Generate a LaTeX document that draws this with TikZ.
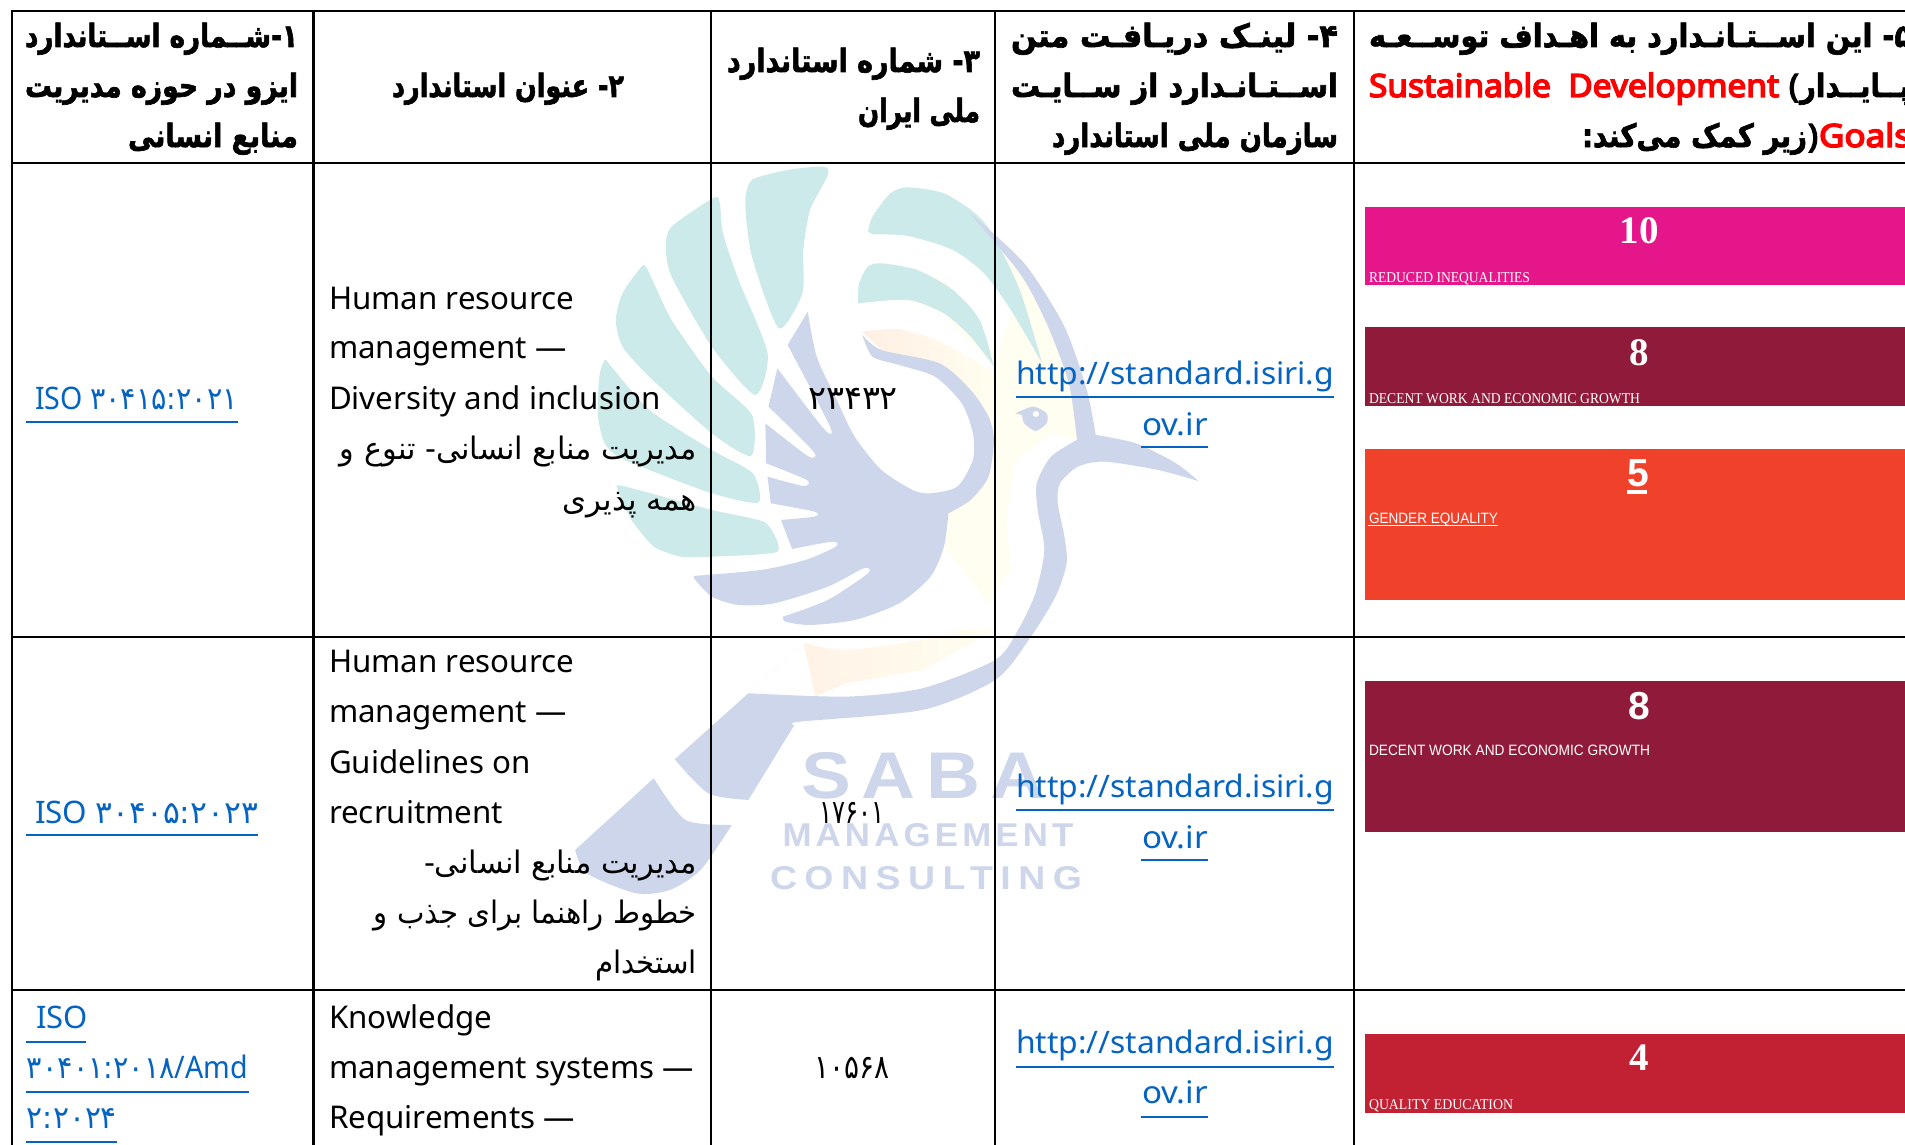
\documentclass[tikz,border=0pt]{standalone}
\usepackage{fontspec}
\usepackage{graphicx}
\usetikzlibrary{calc}
\TeXXeTstate=1
\setmainfont{Noto Sans}
\newfontfamily\fa[Script=Arabic]{DejaVu Sans}
\newfontfamily\fab[Script=Arabic,FakeBold=2]{DejaVu Sans Bold}
\newfontfamily\nb[FakeBold=4.5]{Noto Sans}
\newfontfamily\se{Liberation Serif}
\newfontfamily\ar{Liberation Sans}
\newcommand\hw[2]{\resizebox{#1pt}{\height}{#2}}
\newcommand\rt[1]{{\fa\beginR #1\endR}}
\newcommand\rb[1]{{\fab\beginR #1\endR}}
\newcommand\fs[1]{\fontsize{#1}{#1}\selectfont}
\definecolor{teal1}{HTML}{CCEAE9}
\definecolor{blue1}{HTML}{CDD6EA}
\definecolor{cream1}{HTML}{FFFEF0}
\definecolor{peach1}{HTML}{FFEFE3}
\definecolor{linkc}{HTML}{0563C1}
\definecolor{sdgten}{HTML}{E5158A}
\definecolor{sdgeight}{HTML}{8F1A39}
\definecolor{sdgfive}{HTML}{F0412A}
\definecolor{sdgfour}{HTML}{C22033}
\tikzset{
  txt/.style={inner sep=0pt,outer sep=0pt,anchor=base west},
  rtl/.style={inner sep=0pt,outer sep=0pt,anchor=base east},
  ctr/.style={inner sep=0pt,outer sep=0pt,anchor=base},
  head/.style={rtl,font=\fs{32}},
  body/.style={txt,font=\fs{31.3}},
  fabody/.style={rtl,font=\fs{31}},
  lnk/.style={txt,font=\fs{31},text=linkc},
  ul/.style={draw=linkc,line width=1.6pt},
  grid/.style={draw=black,line width=2.2pt},
  sdgnum/.style={ctr,text=white,font=\fs{39}\se\bfseries},
  sdgsm/.style={txt,text=white,font=\fs{15}\se},
  smooth1/.style={smooth,tension=.45},
}
\begin{document}
\begin{tikzpicture}[x=1pt,y=-1pt]
\useasboundingbox (0,0) rectangle (1905,1145);
\clip (0,0) rectangle (1905,1145);
\fill[white] (0,0) rectangle (1905,1145);
% ---- logo
\begin{scope}[shift={(560,150)},x=.4464pt,y=-.3333pt]
 % cream / peach tints
 \fill[cream1] plot[smooth1] coordinates {(915,185)(1040,340)(1130,530)(1180,720)(1200,855)} -- (1158,870) -- (1100,850) -- (1020,930) -- (1000,1100) -- (1010,1260) -- (960,1360) -- (860,1190) -- (870,1090) -- (972,870) -- (972,650) -- (1030,420) -- cycle;
 \shade[left color=peach1,right color=cream1] plot[smooth1] coordinates {(677,545)(760,538)(860,580)(975,670)} -- (972,870) -- (850,640) -- (720,600) -- cycle;
 \fill[cream1] plot[smooth1] coordinates {(720,335)(800,360)(880,420)(972,600)} -- (972,650) -- (860,490) -- (780,450) -- cycle;
 \shade[left color=peach1,right color=cream1] (422,1630) -- (546,1479) plot[smooth1] coordinates {(546,1479)(641,1500)(812,1470)(898,1440)} -- (975,1440) -- (812,1560) -- (641,1600) -- (572,1640) -- cycle;
 % teal leaves
 \fill[teal1] plot[smooth cycle,tension=.4] coordinates {(430,90)(510,60)(590,50)(600,75)(560,180)(545,300)(543,430)(490,535)(430,320)(415,160)};
 \fill[teal1] plot[smooth cycle,tension=.4] coordinates {(345,143)(358,160)(365,250)(400,390)(465,610)(437,735)(340,590)(250,380)(237,290)(250,230)};
 \fill[teal1] plot[smooth cycle,tension=.4] coordinates {(185,347)(200,370)(250,510)(340,680)(430,795)(428,918)(340,850)(200,680)(140,590)(125,510)(140,430)};
 \fill[teal1] plot[smooth cycle,tension=.4] coordinates {(100,630)(115,650)(200,780)(340,900)(432,970)(444,1058)(340,1030)(200,960)(130,920)(100,880)(85,800)(88,680)};
 \fill[teal1] plot[smooth cycle,tension=.35] coordinates {(140,1008)(340,1080)(460,1118)(487,1205)(340,1220)(270,1220)(210,1190)(160,1110)(130,1020)};
 \fill[teal1] plot[smooth1] coordinates {(690,245)(700,200)(740,130)(780,112)(860,130)(930,190)(970,255)(1030,420)(1080,640)} -- plot[smooth1] coordinates {(1080,640)(1010,480)(950,370)(880,300)(780,258)(700,253)} -- cycle;
 \fill[teal1] plot[smooth1] coordinates {(668,460)(670,400)(690,350)(720,340)(800,360)(880,420)(940,510)(972,650)} -- plot[smooth1] coordinates {(972,650)(920,560)(860,490)(780,450)(668,460)} -- cycle;
 % blue body
 \fill[blue1] plot[smooth1] coordinates {(555,485)(575,620)(620,750)(660,860)(720,960)(790,1020)(830,1030)(890,1010)(925,930)(925,850)(900,760)(840,680)(760,645)(700,620)(677,555)}
  -- plot[smooth1] coordinates {(677,555)(720,600)(850,640)(920,720)(960,800)(972,870)(960,980)(920,1050)(870,1090)}
  -- plot[smooth1] coordinates {(870,1090)(860,1190)(830,1280)(760,1360)(660,1410)(560,1425)(505,1415)(500,1400)}
  -- plot[smooth1] coordinates {(500,1400)(600,1350)(690,1270)(680,1255)(600,1310)(480,1360)(400,1365)(340,1340)(300,1285)}
  -- plot[smooth1] coordinates {(300,1278)(450,1260)(550,1230)(618,1190)(610,1175)(520,1197)}
  -- (495,1110) -- plot[smooth1] coordinates {(495,1110)(570,1100)(570,1085)(472,1060)}
  -- (465,980) -- plot[smooth1] coordinates {(465,980)(545,1008)(553,990)(462,940)}
  -- (460,820) -- plot[smooth1] coordinates {(460,820)(555,918)(568,905)(467,770)}
  -- (487,655) -- plot[smooth1] coordinates {(487,655)(590,835)(605,830)(510,585)}
  -- cycle;
 % neck, head and beak
 \fill[blue1] plot[smooth1] coordinates {(915,185)(1040,340)(1130,530)(1180,720)(1200,855)}
  -- plot[smooth1] coordinates {(1200,855)(1290,880)(1380,940)(1430,993)}
  -- plot[smooth1] coordinates {(1430,993)(1340,960)(1220,935)(1160,950)(1120,1000)(1115,1060)(1130,1160)(1135,1240)(1110,1340)(1050,1470)(975,1590)(812,1680)(538,1715)(525,1725)}
  -- (422,1950) -- plot[smooth1] coordinates {(422,1950)(332,1930)(257,1828)}
  -- (422,1630) -- plot[smooth1] coordinates {(422,1630)(641,1640)(812,1615)(975,1530)(1026,1440)(1065,1330)(1085,1200)(1070,1080)(1068,1000)(1100,920)(1158,870)}
  -- plot[smooth1] coordinates {(1158,870)(1140,700)(1090,520)(1030,370)(915,185)} -- cycle;
 \fill[blue1] plot[smooth1] coordinates {(210,1885)(281,2010)(385,2025)} -- plot[smooth1] coordinates {(385,2025)(315,2160)(246,2220)(170,2230)(60,2170)(34,2100)} -- cycle;
 \fill[blue1] plot[smooth1] coordinates {(1020,790)(1060,770)(1090,790)(1090,820)(1065,843)(1040,820)(1035,795)} -- cycle;
 \fill[white] (1066,792) ellipse (7 and 9);
\end{scope}
\begin{scope}[text=blue1]
\node[ctr,font=\fs{66}\ar\bfseries] (saba) at (923,798) {\hw{243}{\addfontfeature{LetterSpace=14}SABA}};
\node[ctr,font=\fs{33}\ar\bfseries] (mgmt) at (928,846) {\hw{291}{\addfontfeature{LetterSpace=12}MANAGEMENT}};
\node[ctr,font=\fs{33}\ar\bfseries] (cons) at (926,889) {\hw{312}{\addfontfeature{LetterSpace=20}CONSULTING}};
\end{scope}
% ---- SDG boxes
\fill[sdgten] (1365,207) rectangle (1905,285);
\fill[sdgeight] (1365,327) rectangle (1905,406);
\fill[sdgfive] (1365,449) rectangle (1905,600);
\fill[sdgeight] (1365,681) rectangle (1905,832);
\fill[sdgfour] (1365,1034) rectangle (1905,1113);
\node[sdgnum] (n10) at (1639,243) {10};
\node[sdgsm] (t10) at (1369,282) {\hw{161}{REDUCED INEQUALITIES}};
\node[sdgnum] (n8a) at (1639,365) {8};
\node[sdgsm] (t8a) at (1369,403) {\hw{271}{DECENT WORK AND ECONOMIC GROWTH}};
\node[ctr,text=white,font=\fs{39}\ar\bfseries] (n5) at (1638,486) {5};
\draw[white,line width=3.5pt] (1627,492) -- (1647,492);
\node[sdgsm,font=\fs{15}\ar] (t5) at (1369,523) {\hw{129}{GENDER EQUALITY}};
\draw[white,line width=.8pt] (1368,525.5) -- (1498,525.5);
\node[ctr,text=white,font=\fs{39}\ar\bfseries] (n8b) at (1639,719) {8};
\node[sdgsm,font=\fs{15}\ar] (t8b) at (1369,755) {\hw{281}{DECENT WORK AND ECONOMIC GROWTH}};
\node[sdgnum] (n4) at (1639,1070) {4};
\node[sdgsm] (t4) at (1369,1109) {\hw{144}{QUALITY EDUCATION}};
% ---- grid
\foreach \gx in {12,313.5,711,995,1354} \draw[grid] (\gx,10) -- (\gx,1146);
\foreach \gy in {11,163,637,990} \draw[grid] (11,\gy) -- (1906,\gy);
% ---- header
\node[head] (h1a) at (298,47) {\hw{273}{\rb{۱-شــماره اســتاندارد}}};
\node[head] (h1b) at (298,97) {\hw{273}{\rb{ایزو در حوزه مدیریت}}};
\node[head] (h1c) at (298,147) {\hw{170}{\rb{منابع انسانی}}};
\node[head] (h2) at (624,97) {\hw{232}{\rb{۲- عنوان استاندارد}}};
\node[head] (h3a) at (980,72) {\hw{253}{\rb{۳- شماره استاندارد}}};
\node[head] (h3b) at (980,122) {\hw{122}{\rb{ملی ایران}}};
\node[head] (h4a) at (1338,47) {\hw{327}{\rb{۴- لینـک دریـافـت متن}}};
\node[head] (h4b) at (1338,97) {\hw{327}{\rb{اســتـانـدارد از ســایـت}}};
\node[head] (h4c) at (1338,147) {\hw{286}{\rb{سازمان ملی استاندارد}}};
\node[head] (h5a) at (1912,47) {\hw{543}{\rb{۵- این اســتـانـدارد به اهـداف توســعـه}}};
\node[head,anchor=base west,text=red,font=\fs{32}\nb] (h5b) at (1369,97) {\hw{410}{Sustainable\ \ Development}};
\node[head,anchor=base west,font=\fs{32}\nb] (h5p) at (1789,97) {(};
\node[head,anchor=base west] (h5c) at (1800,97) {\hw{110}{\rb{پــایــدار}}};
\node[head,anchor=base west,text=red,font=\fs{32}\nb] (h5d) at (1819,147) {\hw{92}{Goals}};
\node[head,font=\fs{32}\nb] (h5q) at (1818,147) {)};
\node[head] (h5e) at (1807,147) {\hw{225}{\rb{زیر کمک می‌کند:}}};
% ---- column 1
\node[lnk] (i1) at (35,409) {\hw{203}{ISO {\fa ۳۰۴۱۵:۲۰۲۱}}};
\draw[ul] (26,422) -- (238,422);
\node[lnk] (i2) at (35,823) {\hw{223}{ISO {\fa ۳۰۴۰۵:۲۰۲۳}}};
\draw[ul] (26,835) -- (258,835);
\node[lnk] (i3a) at (36,1028) {ISO};
\draw[ul] (26,1042) -- (86,1042);
\node[lnk] (i3b) at (27,1078) {\hw{221}{{\fa ۳۰۴۰۱:۲۰۱۸}/Amd}};
\draw[ul] (26,1092) -- (249,1092);
\node[lnk] (i3c) at (27,1128) {\hw{90}{\fa ۲:۲۰۲۴}};
\draw[ul] (26,1142) -- (117,1142);
% ---- column 2
\node[body] (a1) at (329,309) {Human resource};
\node[body] (a2) at (329,358) {management —};
\node[body] (a3) at (329,409) {Diversity and inclusion};
\node[fabody] (a4) at (697,459) {\hw{357}{\rt{مدیریت منابع انسانی- تنوع و}}};
\node[fabody] (a5) at (697,510) {\hw{134}{\rt{همه پذیری}}};
\node[body] (b1) at (329,672) {Human resource};
\node[body] (b2) at (329,722) {management —};
\node[body] (b3) at (329,773) {Guidelines on};
\node[body] (b4) at (329,823) {recruitment};
\node[fabody] (b5) at (697,873) {\hw{273}{\rt{مدیریت منابع انسانی-}}};
\node[fabody] (b6) at (697,923) {\hw{323}{\rt{خطوط راهنما برای جذب و}}};
\node[fabody] (b7) at (697,973) {\hw{102}{\rt{استخدام}}};
\node[body] (c1) at (329,1028) {Knowledge};
\node[body] (c2) at (329,1078) {management systems —};
\node[body] (c3) at (329,1128) {Requirements —};
% ---- column 3
\node[ctr,font=\fs{33}] (d1) at (853,409) {\hw{90}{\fa ۲۳۴۳۲}};
\node[ctr,font=\fs{33}] (d2) at (852,823) {\hw{65}{\fa ۱۷۶۰۱}};
\node[ctr,font=\fs{33}] (d3) at (852,1078) {\hw{75}{\fa ۱۰۵۶۸}};
% ---- column 4
\foreach \nm/\ya/\yb/\ua/\ub in {p/384/435/397/447,q/797/848/810/860,r/1053/1103/1067/1117}{
  \node[ctr,font=\fs{31},text=linkc] (\nm a) at (1175,\ya) {\hw{318}{http://standard.isiri.g}};
  \node[ctr,font=\fs{31},text=linkc] (\nm b) at (1175,\yb) {\hw{66}{ov.ir}};
  \draw[ul] (1016,\ua) -- (1334,\ua);
  \draw[ul] (1141,\ub) -- (1208,\ub);
}
\end{tikzpicture}
\end{document}
